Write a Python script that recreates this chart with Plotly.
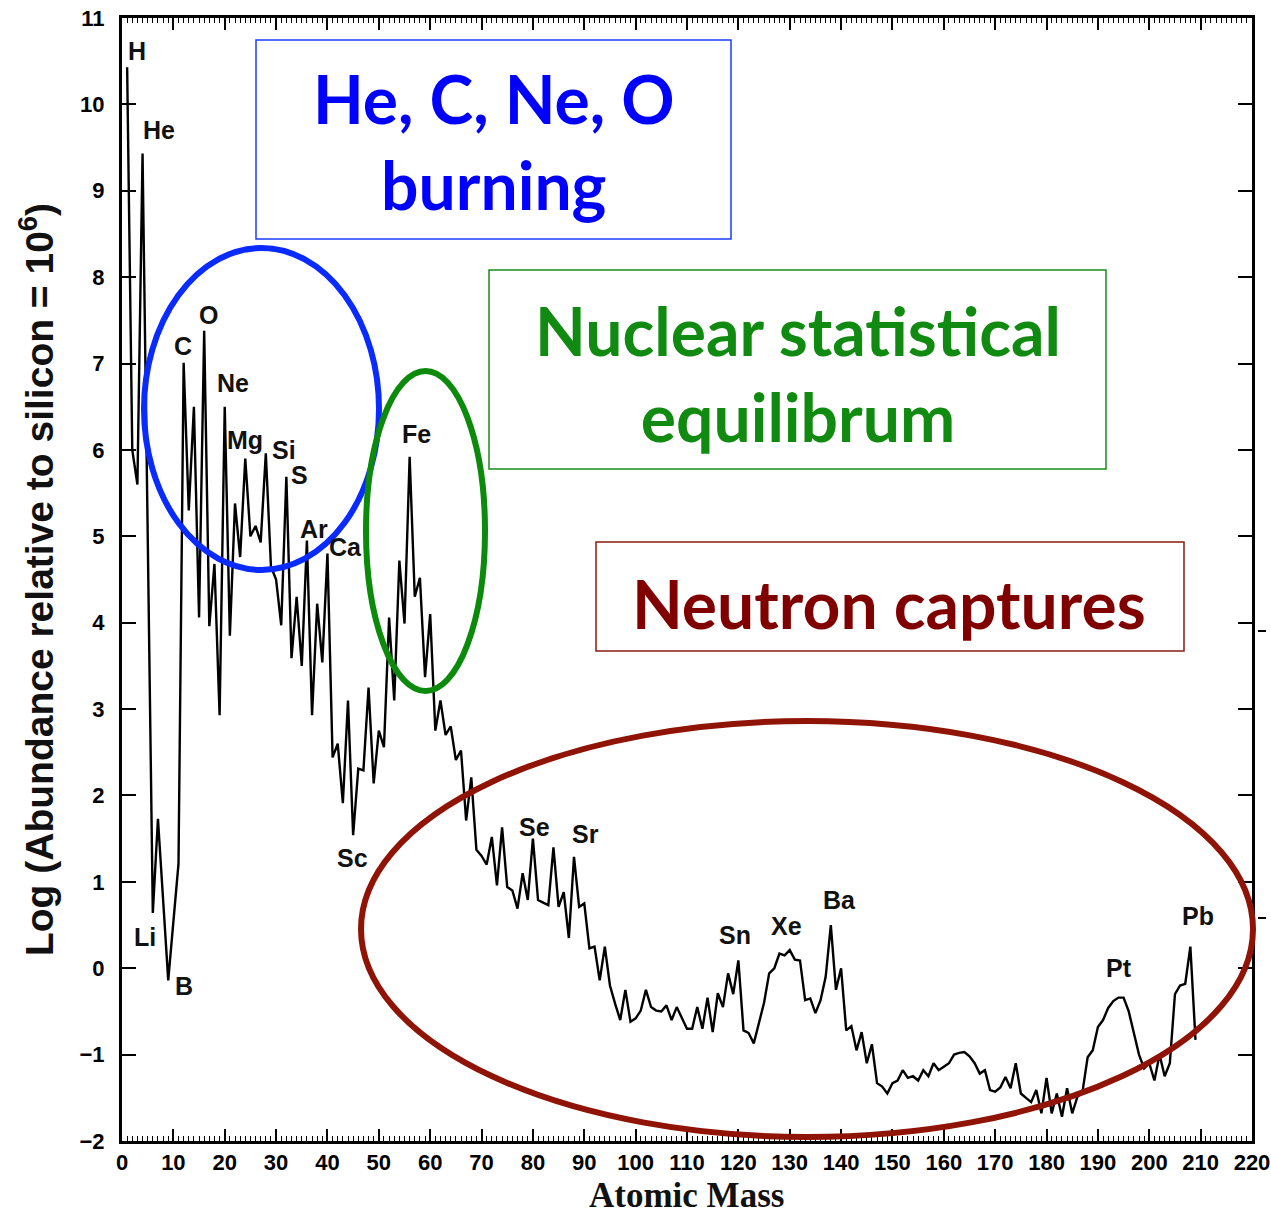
import plotly.graph_objects as go

# ---------------- data ----------------
mass = [1, 2, 3, 4, 6, 7] + list(range(9, 210))
log_abundance = [
    10.43, 6.0, 5.6, 9.43, 0.64, 1.73,
    -0.14, 0.55, 1.21, 7.01, 5.3, 6.5, 4.06, 7.38, 3.96, 4.68,
    2.93, 6.5, 3.85, 5.38, 4.76, 5.9, 5.0, 5.12, 4.93, 5.96,
    4.65, 4.5, 3.97, 5.69, 3.59, 4.3, 3.5, 4.95, 2.93, 4.22,
    3.54, 4.8, 2.44, 2.6, 1.91, 3.1, 1.54, 2.31, 2.29, 3.25,
    2.14, 2.75, 2.56, 4.06, 3.1, 4.72, 3.99, 5.92, 4.3, 4.52,
    3.37, 4.1, 2.75, 3.1, 2.7, 2.8, 2.41, 2.52, 1.71, 2.21,
    1.37, 1.3, 1.2, 1.52, 0.96, 1.63, 0.94, 0.9, 0.69, 1.1,
    0.79, 1.5, 0.79, 0.76, 0.73, 1.4, 0.71, 0.88, 0.35, 1.29,
    0.71, 0.75, 0.23, 0.25, -0.14, 0.25, -0.2, -0.41, -0.6, -0.25,
    -0.62, -0.58, -0.49, -0.25, -0.45, -0.49, -0.5, -0.43, -0.6, -0.45,
    -0.57, -0.7, -0.7, -0.45, -0.7, -0.34, -0.74, -0.29, -0.45, -0.06,
    -0.3, 0.09, -0.72, -0.75, -0.87, -0.62, -0.4, -0.06, 0.0, 0.17,
    0.15, 0.21, 0.1, 0.09, -0.37, -0.35, -0.52, -0.37, -0.1, 0.5,
    -0.25, 0.0, -0.72, -0.67, -0.95, -0.74, -1.1, -0.88, -1.33, -1.37,
    -1.45, -1.33, -1.3, -1.18, -1.27, -1.25, -1.3, -1.18, -1.25, -1.1,
    -1.18, -1.14, -1.1, -1.0, -0.98, -0.97, -1.02, -1.1, -1.22, -1.18,
    -1.41, -1.43, -1.38, -1.26, -1.39, -1.1, -1.45, -1.5, -1.55, -1.41,
    -1.68, -1.27, -1.68, -1.45, -1.72, -1.39, -1.68, -1.49, -1.43, -1.03,
    -0.95, -0.68, -0.6, -0.46, -0.38, -0.34, -0.34, -0.5, -0.75, -1.0,
    -1.16, -1.1, -1.3, -1.0, -1.25, -1.1, -0.3, -0.2, -0.18, 0.25,
    -0.83,
]

# element labels: name, mass position, log value position
elem_names = ["H", "He", "Li", "B", "C", "O", "Ne", "Mg", "Si", "S", "Ar", "Ca", "Sc",
              "Fe", "Se", "Sr", "Sn", "Xe", "Ba", "Pt", "Pb"]
elem_x = [2.9, 7.2, 4.5, 12.1, 11.9, 16.8, 21.7, 24.0, 31.6, 34.6, 37.3, 43.6, 44.9,
          57.4, 80.3, 90.2, 119.3, 129.3, 139.6, 194.1, 209.4]
elem_y = [10.62, 9.70, 0.36, -0.21, 7.2, 7.56, 6.77, 6.11, 6.0, 5.71, 5.09, 4.88, 1.28,
          6.19, 1.64, 1.55, 0.39, 0.49, 0.79, 0.0, 0.6]

x_ticks = list(range(0, 221, 10))
y_ticks = list(range(-2, 12))

# ---------------- figure ----------------
W, H = 1271, 1217
L, R, T, B = 122, 19, 18, 76
pw, ph = W - L - R, H - T - B


def px(x):
    return (x - L) / pw


def py(y):
    return (H - B - y) / ph


fig = go.Figure()
fig.add_trace(go.Scatter(x=mass, y=log_abundance, mode="lines",
                         line=dict(color="black", width=2.4), hoverinfo="skip",
                         showlegend=False))

label_font = dict(family="Liberation Sans, Arial, sans-serif", size=25, color="#111", weight="bold")
for n, xx, yy in zip(elem_names, elem_x, elem_y):
    fig.add_annotation(x=xx, y=yy, text=n, showarrow=False, font=label_font,
                       xanchor="center", yanchor="middle")

shapes = []
# ellipses
shapes.append(dict(type="circle", xref="paper", yref="paper",
                   x0=px(144), x1=px(379), y0=py(570), y1=py(248),
                   line=dict(color="#0a2bff", width=6), layer="above"))
shapes.append(dict(type="circle", xref="paper", yref="paper",
                   x0=px(366), x1=px(485), y0=py(691), y1=py(371),
                   line=dict(color="#0b8a0b", width=6), layer="above"))
shapes.append(dict(type="circle", xref="paper", yref="paper",
                   x0=px(361), x1=px(1253), y0=py(1137), y1=py(721),
                   line=dict(color="#8f1405", width=6), layer="above"))
# text boxes
shapes.append(dict(type="rect", xref="paper", yref="paper",
                   x0=px(256), x1=px(731), y0=py(239), y1=py(40),
                   line=dict(color="#1a3cff", width=1.5), fillcolor="white", layer="above"))
shapes.append(dict(type="rect", xref="paper", yref="paper",
                   x0=px(489), x1=px(1106), y0=py(469), y1=py(270),
                   line=dict(color="#1a8a1a", width=1.5), fillcolor="white", layer="above"))
shapes.append(dict(type="rect", xref="paper", yref="paper",
                   x0=px(596), x1=px(1184), y0=py(651), y1=py(542),
                   line=dict(color="#8b1a10", width=1.5), fillcolor="white", layer="above"))
# small stray marks at the right edge of the original slide
for yy in (631, 918):
    shapes.append(dict(type="line", xref="paper", yref="paper",
                       x0=px(1258), x1=px(1266), y0=py(yy), y1=py(yy),
                       line=dict(color="black", width=2), layer="above"))
fig.update_layout(shapes=shapes)

box_font = "Lato, 'Open Sans', sans-serif"
fig.add_annotation(xref="paper", yref="paper", x=px(494), y=py(142),
                   text="He, C, Ne, O<br>burning", showarrow=False,
                   font=dict(family=box_font, size=66, color="#0000ff", weight="bold"),
                   xanchor="center", yanchor="middle", align="center")
fig.add_annotation(xref="paper", yref="paper", x=px(798), y=py(373),
                   text="Nuclear statistical<br>equilibrum", showarrow=False,
                   font=dict(family=box_font, size=66, color="#108a10", weight="bold"),
                   xanchor="center", yanchor="middle", align="center")
fig.add_annotation(xref="paper", yref="paper", x=px(889), y=py(603),
                   text="Neutron captures", showarrow=False,
                   font=dict(family=box_font, size=66, color="#800000", weight="bold"),
                   xanchor="center", yanchor="middle", align="center")

# x-axis title placed as an annotation
fig.add_annotation(xref="paper", yref="paper", x=px(686), y=py(1216),
                   text="Atomic Mass", showarrow=False, borderpad=0,
                   font=dict(family="Liberation Serif, Times New Roman, serif",
                             size=35, color="#111", weight="bold"),
                   xanchor="center", yanchor="bottom")

tick_font = dict(family="Liberation Sans, Arial, sans-serif", size=22, color="black", weight="bold")
fig.update_xaxes(range=[0, 220], tickvals=x_ticks, ticktext=[str(v) for v in x_ticks],
                 ticks="inside", ticklen=12, tickwidth=2, tickcolor="black",
                 minor=dict(ticks="inside", dtick=1, ticklen=5, tickwidth=1.2, tickcolor="black"),
                 showline=True, linewidth=3, linecolor="black", mirror="allticks",
                 showgrid=False, zeroline=False, tickfont=tick_font, automargin=False)
fig.update_yaxes(range=[-2, 11], tickvals=y_ticks, ticks="inside", ticklen=14, tickwidth=2,
                 tickcolor="black", showline=True, linewidth=3, linecolor="black",
                 mirror="allticks", showgrid=False, zeroline=False, tickfont=tick_font,
                 ticklabelstandoff=10, automargin=False,
                 title=dict(text="Log (Abundance relative to silicon = 10<sup>6</sup>)", standoff=14,
                            font=dict(family="Liberation Sans, Arial, sans-serif",
                                      size=39, color="#111", weight="bold")))

fig.update_layout(width=W, height=H, margin=dict(l=L, r=R, t=T, b=B, autoexpand=False),
                  plot_bgcolor="white", paper_bgcolor="white", showlegend=False)

fig.write_html("out.html")
